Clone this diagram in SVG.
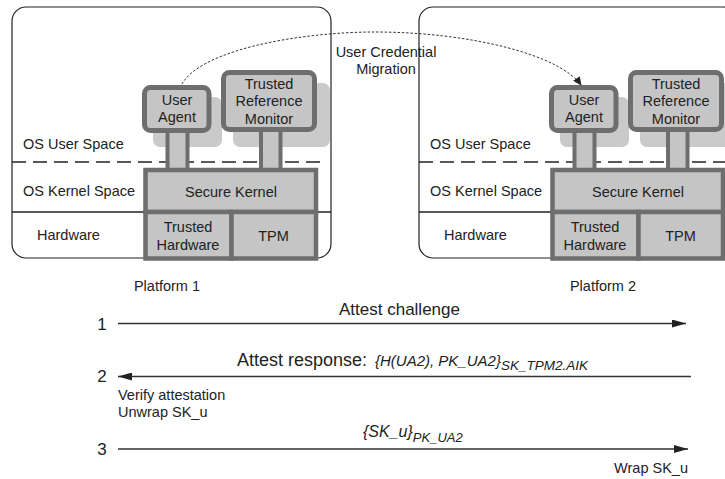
<svg xmlns="http://www.w3.org/2000/svg" width="725" height="479" viewBox="0 0 725 479">
<style>
.t{font-family:"Liberation Sans",Arial,Helvetica,sans-serif;fill:#222;}
.s{font-size:14.5px;}
.b{font-size:17px;}
.m{text-anchor:middle;}
.frame{fill:#fff;stroke:#222;stroke-width:1.2;}
.layer{stroke:#222;stroke-width:1.3;}
.dash{stroke:#222;stroke-width:1.5;stroke-dasharray:14 7;}
.shadow{fill:#cacaca;}
.box{fill:#c5c5c5;stroke:#6e6e6e;}
.rb{stroke-width:5;}
.kb{stroke-width:4.5;}
.pillar{fill:#c5c5c5;stroke:#6e6e6e;stroke-width:4;}
.msg{stroke:#333;stroke-width:1.3;fill:none;}
.mig{stroke:#333;stroke-width:1;fill:none;stroke-dasharray:2.5 1.8;}
</style>
<defs>
<marker id="ah" markerUnits="userSpaceOnUse" markerWidth="14" markerHeight="8" refX="14" refY="4" orient="auto">
<path d="M0,0 L14,4 L0,8 z" fill="#222"/>
</marker>
<marker id="sh" markerUnits="userSpaceOnUse" markerWidth="9" markerHeight="8" refX="8" refY="4" orient="auto">
<path d="M0,0 L9,4 L0,8 z" fill="#222"/>
</marker>
<g id="frameTpl">
<rect class="frame" x="12" y="7" width="319" height="251" rx="14"/>
<line class="dash" x1="12" y1="162" x2="326" y2="162"/>
<line class="layer" x1="12" y1="212" x2="331" y2="212"/>
<text class="t s" x="23" y="149">OS User Space</text>
<text class="t s" x="23" y="196">OS Kernel Space</text>
<text class="t s" x="37" y="240">Hardware</text>
<rect class="shadow" x="153" y="97" width="69" height="50" rx="7"/>
<rect class="shadow" x="233" y="83" width="97" height="64" rx="7"/>
</g>
</defs>

<g id="platform1">
<use href="#frameTpl"/>
<text class="t s m" x="167" y="291">Platform 1</text>
</g>
<g id="platform2">
<use href="#frameTpl" transform="translate(407,0)"/>
<text class="t s m" x="603" y="291">Platform 2</text>
</g>

<g id="connectors">
<rect class="pillar" x="167.5" y="128" width="20" height="44"/>
<rect class="pillar" x="261" y="128" width="19.5" height="44"/>
<rect class="pillar" x="574.5" y="128" width="20" height="44"/>
<rect class="pillar" x="668" y="128" width="19.5" height="44"/>
<path class="mig" d="M180,88 C195,50 300,32 375,32 C470,32 560,55 581,85" marker-end="url(#sh)"/>
<line class="msg" x1="118" y1="323.5" x2="686" y2="323.5" marker-end="url(#ah)"/>
<line class="msg" x1="691" y1="376.5" x2="118" y2="376.5" marker-end="url(#ah)"/>
<line class="msg" x1="118" y1="449" x2="688" y2="449" marker-end="url(#ah)"/>
</g>

<g id="p1-user-agent">
<rect class="box rb" x="144.5" y="87.5" width="64.5" height="43" rx="6"/>
<text class="t s m" x="177" y="104.5">User</text>
<text class="t s m" x="177" y="122">Agent</text>
</g>
<g id="p1-trm">
<rect class="box rb" x="223.5" y="72.5" width="91" height="57" rx="6"/>
<text class="t s m" x="269" y="88.5">Trusted</text>
<text class="t s m" x="269" y="106">Reference</text>
<text class="t s m" x="269" y="123.5">Monitor</text>
</g>
<g id="p1-secure-kernel">
<rect class="box kb" x="145.5" y="170" width="170.5" height="42"/>
<text class="t s m" x="231" y="197">Secure Kernel</text>
</g>
<g id="p1-trusted-hardware">
<rect class="box kb" x="145.5" y="212" width="86" height="46.5"/>
<text class="t s m" x="188" y="232">Trusted</text>
<text class="t s m" x="188" y="249.5">Hardware</text>
</g>
<g id="p1-tpm">
<rect class="box kb" x="231.5" y="212" width="84.5" height="46.5"/>
<text class="t s m" x="273.5" y="241">TPM</text>
</g>

<g id="p2-user-agent">
<rect class="box rb" x="551.5" y="87.5" width="64.5" height="43" rx="6"/>
<text class="t s m" x="584" y="104.5">User</text>
<text class="t s m" x="584" y="122">Agent</text>
</g>
<g id="p2-trm">
<rect class="box rb" x="630.5" y="72.5" width="91" height="57" rx="6"/>
<text class="t s m" x="676" y="88.5">Trusted</text>
<text class="t s m" x="676" y="106">Reference</text>
<text class="t s m" x="676" y="123.5">Monitor</text>
</g>
<g id="p2-secure-kernel">
<rect class="box kb" x="552.5" y="170" width="170.5" height="42"/>
<text class="t s m" x="638" y="197">Secure Kernel</text>
</g>
<g id="p2-trusted-hardware">
<rect class="box kb" x="552.5" y="212" width="86" height="46.5"/>
<text class="t s m" x="595" y="232">Trusted</text>
<text class="t s m" x="595" y="249.5">Hardware</text>
</g>
<g id="p2-tpm">
<rect class="box kb" x="638.5" y="212" width="84.5" height="46.5"/>
<text class="t s m" x="680.5" y="241">TPM</text>
</g>

<g id="labels">
<text class="t s m" x="386" y="57">User Credential</text>
<text class="t s m" x="386" y="74">Migration</text>
<text class="t b m" x="102" y="330">1</text>
<text class="t b m" x="102" y="382">2</text>
<text class="t b m" x="102" y="455">3</text>
<text class="t b" x="339" y="315">Attest challenge</text>
<text class="t" font-size="18" x="237" y="366">Attest response:<tspan x="375" font-style="italic" font-size="15">{H(UA2), PK_UA2}</tspan><tspan dy="4" font-style="italic" font-size="13.5">SK_TPM2.AIK</tspan></text>
<text class="t s" x="118" y="400">Verify attestation</text>
<text class="t s" x="118" y="417">Unwrap SK_u</text>
<text class="t" font-size="16" font-style="italic" x="363" y="437">{SK_u}<tspan font-size="13" dy="5">PK_UA2</tspan></text>
<text class="t s" x="688" y="473" text-anchor="end">Wrap SK_u</text>
</g>
</svg>
